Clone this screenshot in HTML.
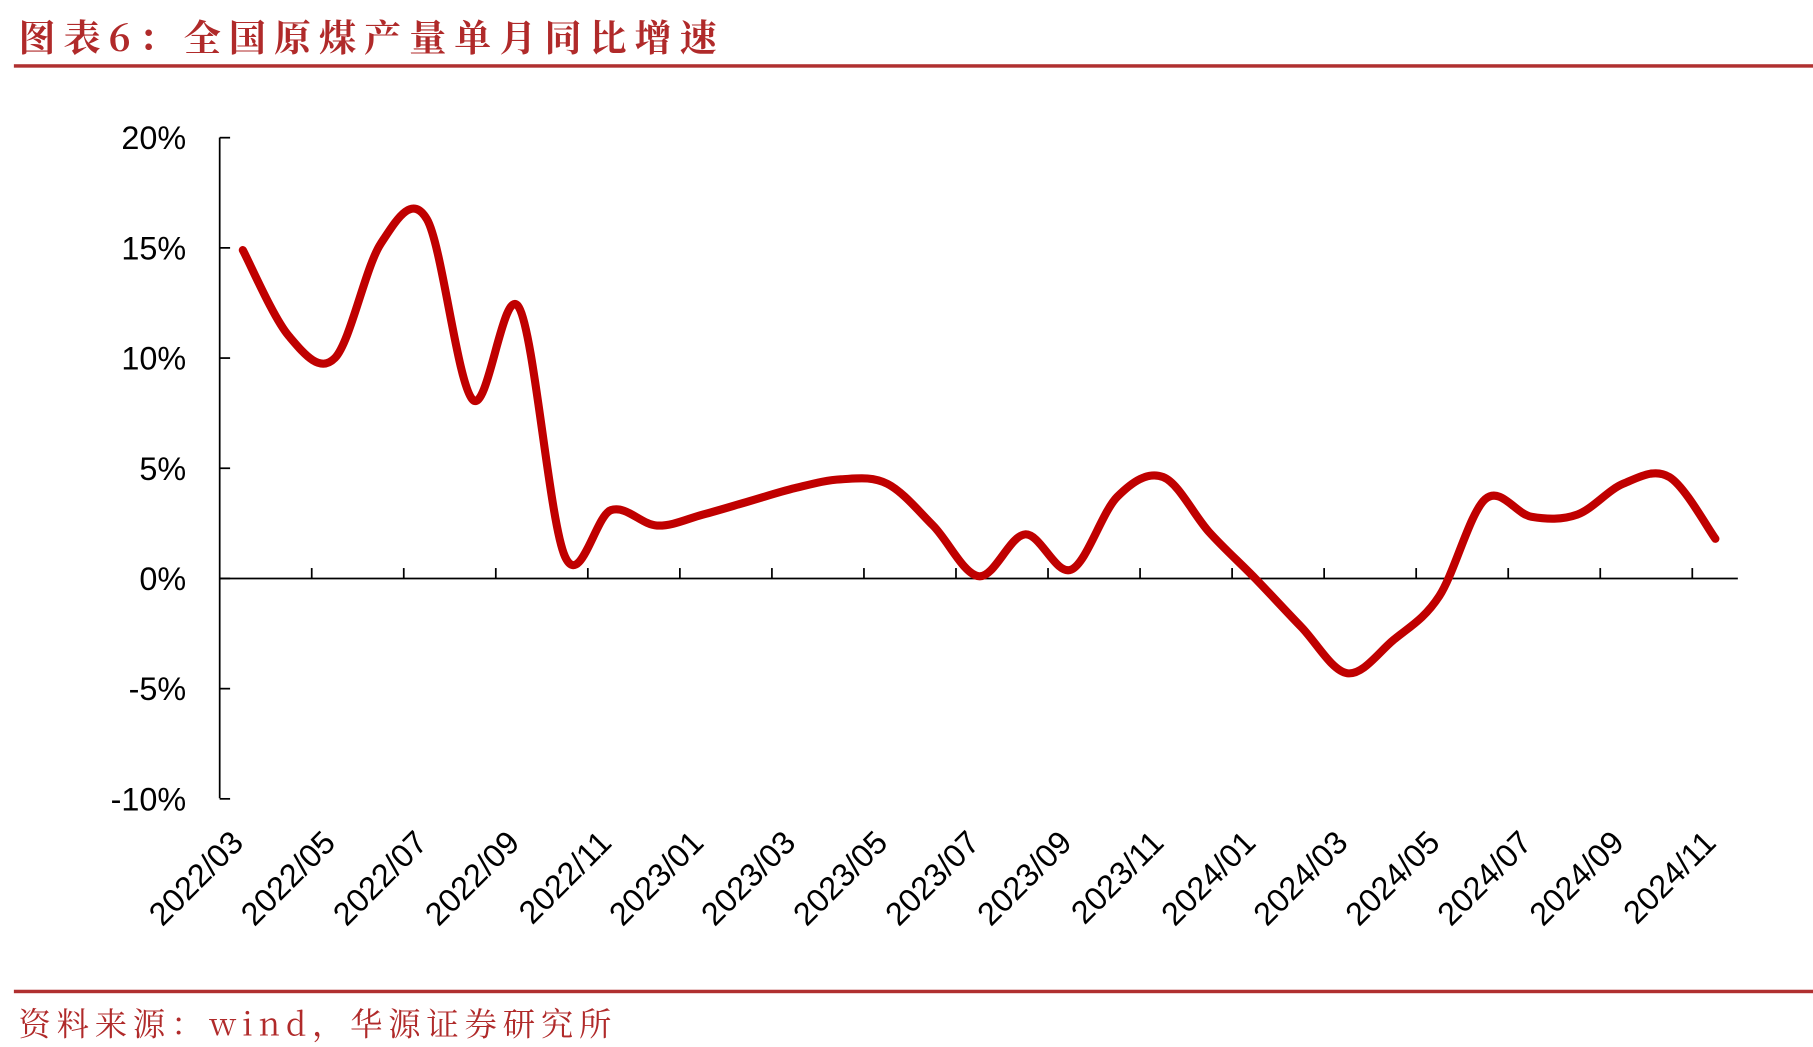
<!DOCTYPE html>
<html><head><meta charset="utf-8"><style>html,body{margin:0;padding:0;background:#fff}svg{display:block}</style></head>
<body>
<svg id="s" width="1813" height="1047" viewBox="0 0 1568 905" preserveAspectRatio="none" xmlns="http://www.w3.org/2000/svg">
<text x="16" y="44" font-family="'Noto Serif CJK SC','Liberation Serif',serif" font-size="32" font-weight="bold" letter-spacing="7" fill="#b02a2a">图表6：全国原煤产量单月同比增速</text>
<rect x="12" y="55.5" width="1556" height="3" fill="#b03030"/>
<rect x="12" y="855.5" width="1556" height="3" fill="#b03030"/>
<text x="16" y="895" font-family="'Noto Serif CJK SC','Liberation Serif',serif" font-size="28" letter-spacing="5" fill="#b02a2a">资料来源：wind，华源证券研究所</text>
<g id="ax" stroke="#000" stroke-width="1.5"></g>
<g id="lab" font-family="'Liberation Sans',sans-serif" font-size="28" fill="#000"></g>
<path id="ln" fill="none" stroke="#c00000" stroke-width="7" stroke-linejoin="round" stroke-linecap="round"/>
</svg>
<script>
var ns="http://www.w3.org/2000/svg";
function el(p,t,a,txt){var e=document.createElementNS(ns,t);for(var k in a)e.setAttribute(k,a[k]);if(txt)e.textContent=txt;p.appendChild(e);return e;}
var ax=document.getElementById('ax'),lab=document.getElementById('lab');
function Y(v){return 500-19.05*v;}
el(ax,'line',{x1:190,y1:119,x2:190,y2:690});
el(ax,'line',{x1:190,y1:500,x2:1503,y2:500});
for(var v=20;v>=-10;v-=5){var y=Y(v);el(ax,'line',{x1:190,y1:y,x2:199,y2:y});
 el(lab,'text',{x:161,y:y+10,'text-anchor':'end'},v+'%');}
var labels=[];
for(var i=0;i<33;i++){var yr=2022+Math.floor((i+2)/12),m=(i+2)%12+1;labels.push(yr+'/'+(m<10?'0'+m:m));}
var sp=39.8;
for(var k=1;k<=16;k++){var x=190+sp*(2*k);el(ax,'line',{x1:x,y1:491,x2:x,y2:500});}
for(var i=0;i<33;i+=2){var x=210+sp*i+2;el(lab,'text',{x:0,y:0,'text-anchor':'end',transform:'translate('+x+',730) rotate(-45)'},labels[i]);}
var d=[14.9,11.0,10.0,15.2,16.3,8.1,12.3,1.0,3.1,2.4,2.9,3.5,4.1,4.5,4.3,2.4,0.1,2.0,0.4,3.7,4.6,2.1,0.0,-2.2,-4.3,-2.8,-0.8,3.6,2.8,2.9,4.3,4.6,1.8];
var P=d.map(function(v,i){return [210+sp*i,Y(v)];});
var s='M'+P[0][0]+','+P[0][1];
for(var i=0;i<P.length-1;i++){var p0=P[Math.max(0,i-1)],p1=P[i],p2=P[i+1],p3=P[Math.min(P.length-1,i+2)];
 var t=1/6;s+=' C'+(p1[0]+(p2[0]-p0[0])*t)+','+(p1[1]+(p2[1]-p0[1])*t)+' '+(p2[0]-(p3[0]-p1[0])*t)+','+(p2[1]-(p3[1]-p1[1])*t)+' '+p2[0]+','+p2[1];}
document.getElementById('ln').setAttribute('d',s);
</script>
</body></html>
